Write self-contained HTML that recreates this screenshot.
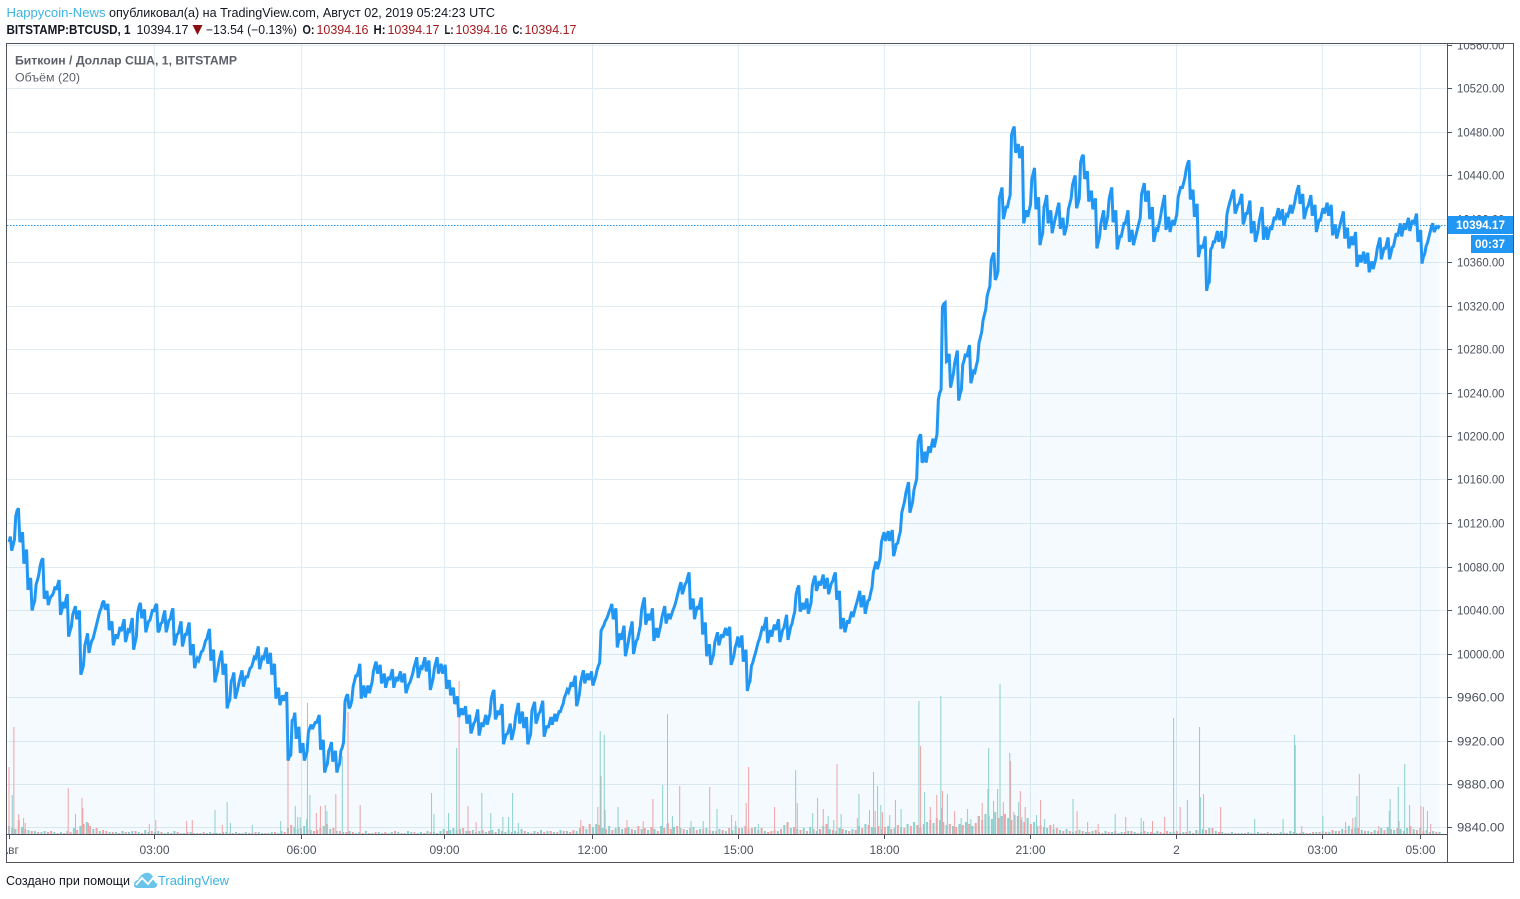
<!DOCTYPE html>
<html lang="ru">
<head>
<meta charset="utf-8">
<title>BTCUSD chart</title>
<style>
html,body{margin:0;padding:0;background:#fff;width:1520px;height:899px;overflow:hidden}
svg{display:block;font-family:"Liberation Sans","Noto Sans CJK SC",sans-serif}
</style>
</head>
<body>
<svg id="root" xmlns="http://www.w3.org/2000/svg" width="1520" height="899" viewBox="0 0 1520 899">
  <defs>
    <clipPath id="plot-clip"><rect x="7" y="44" width="1440" height="790"/></clipPath>
    <clipPath id="frame-clip"><rect x="7" y="44" width="1506" height="818"/></clipPath>
  </defs>

  <g font-size="12.5">
    <text x="6.5" y="17" fill="#3bb3e4" textLength="99" lengthAdjust="spacingAndGlyphs">Happycoin-News</text>
    <text x="109" y="17" fill="#131722" textLength="386" lengthAdjust="spacingAndGlyphs">опубликовал(а) на TradingView.com, Август 02, 2019 05:24:23 UTC</text>
    <text x="6.5" y="34" fill="#131722" font-weight="bold" textLength="124" lengthAdjust="spacingAndGlyphs">BITSTAMP:BTCUSD, 1</text>
    <text x="136.5" y="34" fill="#131722" textLength="52" lengthAdjust="spacingAndGlyphs">10394.17</text>
    <polygon points="192.6,25 202.5,25 197.5,35" fill="#8b0f10"/>
    <text x="206" y="34" fill="#131722" textLength="91" lengthAdjust="spacingAndGlyphs">−13.54 (−0.13%)</text>
    <text x="302.5" y="34" fill="#131722" font-weight="bold" textLength="12" lengthAdjust="spacingAndGlyphs">O:</text>
    <text x="316.5" y="34" fill="#a8181c" textLength="52" lengthAdjust="spacingAndGlyphs">10394.16</text>
    <text x="373.5" y="34" fill="#131722" font-weight="bold" textLength="12" lengthAdjust="spacingAndGlyphs">H:</text>
    <text x="387.5" y="34" fill="#a8181c" textLength="52" lengthAdjust="spacingAndGlyphs">10394.17</text>
    <text x="444.5" y="34" fill="#131722" font-weight="bold" textLength="9" lengthAdjust="spacingAndGlyphs">L:</text>
    <text x="455.5" y="34" fill="#a8181c" textLength="52" lengthAdjust="spacingAndGlyphs">10394.16</text>
    <text x="512.5" y="34" fill="#131722" font-weight="bold" textLength="10" lengthAdjust="spacingAndGlyphs">C:</text>
    <text x="524.5" y="34" fill="#a8181c" textLength="52" lengthAdjust="spacingAndGlyphs">10394.17</text>
  </g>

  <g id="grid"></g>
  <g id="area" clip-path="url(#plot-clip)"></g>
  <g id="volume" clip-path="url(#plot-clip)"></g>
  <g id="line" clip-path="url(#plot-clip)"></g>

  <g>
    <text x="15" y="64.5" font-size="12" font-weight="bold" fill="#5d606b" textLength="222" lengthAdjust="spacingAndGlyphs">Биткоин / Доллар США, 1, BITSTAMP</text>
    <text x="15" y="81.5" font-size="12" fill="#5d606b" textLength="65" lengthAdjust="spacingAndGlyphs">Объём (20)</text>
  </g>

  <g id="yaxis" clip-path="url(#frame-clip)"></g>
  <g id="xaxis" clip-path="url(#frame-clip)"></g>

  <g id="tags"></g>

  <rect x="6.5" y="43.5" width="1507" height="819" fill="none" stroke="#50535e" stroke-width="1"/>
  <line x1="1447.5" y1="43.5" x2="1447.5" y2="862.5" stroke="#50535e" stroke-width="1"/>
  <line x1="6.5" y1="834.5" x2="1447.5" y2="834.5" stroke="#50535e" stroke-width="1"/>

  <g>
    <text x="6" y="885" font-size="12.5" fill="#131722" textLength="124" lengthAdjust="spacingAndGlyphs">Создано при помощи</text>
    <g>
      <path d="M134 885 C134 881 137 880 138 880 C140 875 145 872 149 873 C152 874 153 877 154 879 C157 880 158 883 157 885 C157 887 155 888 153 888 L138 888 C135 888 134 887 134 885 Z" fill="#6cc4ea"/>
      <path d="M136 885 L142 878 L148 884 L153 878 L157 883" fill="none" stroke="#fff" stroke-width="1.8"/>
      <text x="158" y="885" font-size="12.5" fill="#3bb3e4" textLength="71" lengthAdjust="spacingAndGlyphs">TradingView</text>
    </g>
  </g>
</svg>

<script>
/* Closing prices (USD), one reading every ~5 minutes across the session */
const closePrices = [
10103,10100,10132,10105,10090,10065,10045,10068,10086,10053,
10050,10057,10064,10040,10050,10021,10040,10036,9985,10013,
10007,10019,10034,10047,10043,10025,10013,10019,10027,10016,
10027,10010,10044,10036,10025,10036,10044,10022,10035,10025,
10038,10012,10025,10012,10024,10004,9992,9998,10007,10019,
9998,9980,9998,9986,9955,9978,9964,9980,9975,9983,
9992,10001,9992,10001,9996,9986,9964,9958,9961,9906,
9940,9928,9914,9906,9932,9934,9940,9916,9896,9914,
9906,9896,9914,9961,9952,9975,9985,9965,9966,9969,
9989,9986,9977,9974,9981,9974,9980,9978,9968,9978,
9992,9983,9992,9989,9972,9992,9987,9986,9972,9966,
9957,9946,9948,9940,9931,9943,9931,9939,9940,9964,
9943,9949,9922,9931,9926,9949,9942,9937,9922,9952,
9940,9952,9929,9937,9940,9943,9951,9963,9969,9975,
9957,9980,9978,9980,9975,9989,10024,10032,10042,10036,
10012,10020,10004,10024,10006,10020,10047,10032,10036,10018,
10021,10039,10033,10036,10047,10062,10059,10071,10045,10038,
10047,10023,10004,9995,10015,10013,10020,10021,9994,10010,
10012,9998,9972,9992,10006,10019,10028,10016,10022,10027,
10016,10030,10019,10034,10060,10042,10046,10042,10068,10062,
10068,10065,10060,10072,10053,10028,10025,10034,10039,10053,
10048,10043,10056,10080,10083,10108,10108,10109,10095,10108,
10135,10153,10135,10156,10200,10178,10184,10192,10196,10240,
10322,10270,10251,10273,10239,10270,10279,10254,10265,10291,
10312,10334,10366,10347,10424,10405,10417,10482,10464,10461,
10402,10408,10442,10414,10382,10416,10402,10393,10410,10396,
10390,10414,10436,10414,10457,10439,10421,10414,10378,10402,
10396,10424,10402,10378,10390,10402,10385,10381,10396,10428,
10421,10405,10385,10396,10416,10396,10394,10399,10425,10433,
10451,10421,10408,10371,10378,10340,10374,10384,10384,10378,
10410,10424,10408,10419,10399,10411,10393,10384,10405,10387,
10387,10396,10405,10404,10399,10408,10410,10427,10418,10405,
10417,10408,10393,10405,10410,10408,10390,10387,10402,10387,
10378,10382,10362,10365,10364,10356,10359,10378,10368,10378,
10368,10381,10390,10390,10396,10394,10400,10384,10365,10378,
10393,10391,10394.17
];
/* Half-width (USD) of the minute-to-minute swing seen inside each reading */
const priceSwings = [
5,5,2,7,6,5,4,5,2,5,
3,5,4,8,5,4,4,4,5,6,
5,5,5,2,3,5,5,6,5,6,
6,6,3,5,5,5,2,6,5,6,
4,6,5,6,5,5,4,4,5,4,
6,5,5,5,3,5,5,5,5,4,
5,6,5,5,5,5,5,4,4,1,
6,5,4,4,3,3,4,5,3,5,
5,3,5,2,5,5,6,6,5,5,
4,4,5,5,5,5,4,4,4,4,
5,5,5,5,5,5,4,4,4,3,
4,4,4,4,5,6,6,5,5,3,
5,5,4,5,6,6,5,5,4,4,
5,5,5,5,5,4,3,4,5,5,
6,5,4,4,4,3,2,3,4,6,
7,6,6,6,6,6,5,5,6,6,
5,5,4,4,5,4,5,4,6,6,
5,6,5,4,5,5,4,4,4,6,
5,6,3,5,5,5,6,6,5,5,
6,6,6,5,3,5,5,5,4,5,
5,5,5,3,5,5,6,5,5,5,
6,6,5,5,5,4,5,5,6,5,
5,5,5,5,2,8,7,6,6,3,
1,6,6,6,4,6,5,6,5,5,
5,4,3,5,5,6,5,3,5,6,
6,5,5,6,5,6,6,6,5,5,
5,5,4,5,2,5,5,5,6,6,
6,5,6,6,6,6,5,5,5,5,
5,6,6,6,6,6,5,5,5,5,
3,6,6,5,6,2,5,5,5,6,
5,3,5,4,6,6,5,6,6,6,
6,6,5,5,5,5,5,4,5,5,
5,5,6,5,5,5,5,5,5,5,
6,6,5,5,5,5,5,5,5,5,
6,6,6,6,5,5,5,6,3,5,
3,2,0
];
const sessionMinutes = 1764;
const lastPrice = 10394.17;

/* Background volume, one reading every 4 minutes; sign = candle direction */
const baseVolume = [
8,-6,5,-14,7,-5,4,-3,3,-2,2,3,-2,-3,2,-1,
2,-1,3,-2,6,-4,8,-10,12,-8,5,-6,3,-4,-3,2,
-2,2,-1,3,-2,2,3,-3,2,-1,4,2,-3,2,3,-2,1,2,-1,3,-2,1,1,-2,2,1,-1,1,-2,
1,2,-1,1,1,-2,2,1,-1,2,-1,1,2,-1,1,-2,2,1,-1,1,2,-2,1,3,-2,
6,-9,7,5,-6,8,-5,4,-3,-4,-6,8,-10,5,-6,3,-3,2,-2,3,
-2,1,2,-1,3,-1,1,-2,2,1,-2,1,2,-3,2,-1,1,3,2,-2,1,2,-1,3,-2,2,-1,3,5,-3,
4,6,-4,5,-6,3,-3,4,-2,3,-4,2,-3,4,-2,
5,-3,2,4,-2,3,-2,5,-3,2,-1,3,-2,4,-2,3,-3,2,-2,4,-3,3,-2,-4,3,
6,-8,5,-10,7,10,-9,6,-5,8,-4,6,-7,5,-6,7,-5,4,-8,5,-6,4,-7,5,-3,
8,-6,10,-5,7,-8,6,-5,4,-6,7,-4,5,-5,6,-4,3,-3,5,-4,3,-6,4,8,-6,
6,-8,5,-6,7,-4,-6,3,-2,-3,4,3,-5,9,-12,6,-7,5,-4,6,-3,7,-5,3,-5,8,-10,5,-4,3,
6,-5,4,-3,5,-4,8,-6,10,-9,7,6,-8,5,-7,8,-5,6,-9,7,-6,10,-8,12,-9,6,-10,12,-14,11,
-16,14,-12,9,-10,8,-7,10,-9,12,-10,8,-11,18,-14,20,-18,15,22,-16,18,-20,16,-14,19,
-18,14,-12,16,-10,12,-8,9,-7,6,-9,5,-6,4,-3,5,-3,2,-3,4,
-3,2,-2,3,-4,2,-1,3,-2,2,-3,1,2,-2,3,-3,2,-1,2,-3,2,-2,1,3,-2,1,-3,2,2,-3,1,2,-2,3,-1,4,-3,5,-4,6,
-6,3,-2,2,-1,1,2,-1,1,1,-1,2,-1,1,2,-1,1,-2,1,1,-1,2,-1,1,3,-2,1,-1,2,-1,1,-2,
2,-2,3,-2,2,-4,3,-3,5,-4,8,-5,6,-6,4,-3,3,-2,4,-3,6,-4,7,-5,4,-6,5,-3,6,-8,5,-4,6,-3,4,-2,3,-2,2
];
const baseVolumeStepMinutes = 4;

/* Volume spikes on falling candles */
const downSpikeMinutes = [0,6,12,18,20,73,90,91,98,173,181,219,226,263,344,379,384,390,403,418,433,555,566,576,705,726,730,735,762,782,794,813,827,864,891,909,912,944,960,972,997,1004,1021,1046,1068,1077,1093,1124,1136,1144,1151,1166,1195,1200,1214,1226,1235,1239,1247,1253,1256,1272,1288,1317,1330,1343,1377,1399,1410,1425,1444,1468,1473,1494,1594,1648,1657,1665,1689,1714,1741,1744,1753];
const downSpikeVolumes = [67,107,20,16,11,46,36,26,11,10,14,13,14,9,74,21,28,29,40,122,29,153,28,12,14,27,58,24,14,13,35,11,48,47,19,31,67,27,11,31,36,25,70,16,23,22,34,88,27,39,43,23,18,31,33,32,73,22,43,27,16,34,10,23,12,10,17,13,13,17,27,107,40,27,8,12,16,60,8,13,28,27,10];

/* Volume spikes on rising candles */
const upSpikeMinutes = [4,82,254,269,273,300,335,353,356,359,367,368,371,392,411,521,524,542,552,583,594,609,616,621,628,729,734,751,806,812,818,841,856,873,896,924,970,991,1010,1017,1026,1048,1061,1066,1071,1075,1086,1100,1122,1129,1149,1150,1157,1174,1182,1186,1207,1208,1219,1222,1234,1245,1249,1267,1277,1312,1364,1396,1436,1453,1469,1536,1571,1585,1586,1620,1660,1662,1702,1703,1713,1721,1727,1749];
const upSpikeVolumes = [39,20,24,32,11,9,13,28,17,17,15,131,39,23,78,41,20,21,86,41,21,17,17,41,11,103,99,27,49,120,18,13,13,25,13,10,64,21,18,14,20,40,24,62,48,29,19,25,133,42,138,26,40,16,25,15,45,86,45,150,81,32,17,19,15,35,20,16,116,34,37,15,15,99,89,18,17,38,23,35,47,70,29,23];

/* Axis labels */
const priceTicks = [10560,10520,10480,10440,10400,10360,10320,10280,10240,10200,10160,10120,10080,10040,10000,9960,9920,9880,9840];
const timeTickMinutes = [0,180,361,537,719,900,1080,1260,1440,1620,1740];
const timeTickLabels = ['Авг','03:00','06:00','09:00','12:00','15:00','18:00','21:00','2','03:00','05:00'];
const countdownLabel = '00:37';

/* Axis functions */
const SVGNS = 'http://www.w3.org/2000/svg';
function xOf(minute){ return 9 + 0.811 * minute; }
function yOf(price){ return 88.5 + (10520 - price) * 1.0875; }
function volY(volume){ return 834 - volume; }
function make(parent, tag, attrs){
  const el = document.createElementNS(SVGNS, tag);
  for (const k in attrs) el.setAttribute(k, attrs[k]);
  parent.appendChild(el);
  return el;
}

const gridG = document.getElementById('grid');
const yAxisG = document.getElementById('yaxis');
const xAxisG = document.getElementById('xaxis');
const areaG = document.getElementById('area');
const volG = document.getElementById('volume');
const lineG = document.getElementById('line');
const tagsG = document.getElementById('tags');

/* Horizontal grid + price ticks */
priceTicks.forEach(function(p){
  const y = Math.round(yOf(p) - 0.5) + 0.5;
  const g = make(gridG, 'line', {x1:7, x2:1447, y1:y, y2:y, stroke:'#e1ecf2', 'stroke-width':1});
  
  
  const t = make(yAxisG, 'line', {x1:1447, x2:1452, y1:y, y2:y, stroke:'#50535e', 'stroke-width':1});
  
  
  const l = make(yAxisG, 'text', {x:1457, y:y + 4, 'font-size':12, fill:'#4c525e', textLength:47.5, lengthAdjust:'spacingAndGlyphs'});
  
  
  l.textContent = p.toFixed(2);
});

/* Vertical grid + time ticks */
timeTickMinutes.forEach(function(m, i){
  const x = Math.round(xOf(m) - 0.5) + 0.5;
  if (i > 0) {
    const g = make(gridG, 'line', {x1:x, x2:x, y1:44, y2:834, stroke:'#e1ecf2', 'stroke-width':1});
    
    
  }
  const t = make(xAxisG, 'line', {x1:x, x2:x, y1:834, y2:839, stroke:'#50535e', 'stroke-width':1});
  
  
  const l = make(xAxisG, 'text', {x:x, y:854, 'font-size':12, fill:'#4c525e', 'text-anchor':'middle'});
  
  
  l.textContent = timeTickLabels[i];
});

/* Price path: each reading plus the swing inside its interval */
const stepMinutes = sessionMinutes / (closePrices.length - 1);
let linePath = '';
closePrices.forEach(function(p, i){
  linePath += (i ? 'L' : 'M') + xOf(i * stepMinutes).toFixed(2) + ' ' + yOf(p).toFixed(2);
  if (i < closePrices.length - 1) {
    const s = priceSwings[i];
    const next = closePrices[i + 1];
    linePath += 'L' + xOf((i + 1 / 3) * stepMinutes).toFixed(2) + ' ' + yOf(p + s).toFixed(2);
    linePath += 'L' + xOf((i + 2 / 3) * stepMinutes).toFixed(2) + ' ' + yOf(next - s).toFixed(2);
  }
});
const areaPath = linePath + 'L' + xOf(sessionMinutes).toFixed(2) + ' 834L' + xOf(0).toFixed(2) + ' 834Z';
const areaEl = make(areaG, 'path', {d:areaPath, fill:'#2196f3', 'fill-opacity':0.05});



/* Volume */
function drawVolumeBar(minute, signedVolume, width){
  if (minute > sessionMinutes) return;
  const v = Math.abs(signedVolume);
  const r = make(volG, 'rect', {
    x:(xOf(minute) - width / 2).toFixed(2), y:volY(v), width:width, height:v,
    fill: signedVolume >= 0 ? '#8bd0cc' : '#efa3a6'
  });
  
  
}
baseVolume.forEach(function(v, i){ drawVolumeBar(i * baseVolumeStepMinutes, v, 2); });
downSpikeMinutes.forEach(function(m, i){ drawVolumeBar(m, -downSpikeVolumes[i], 1); });
upSpikeMinutes.forEach(function(m, i){ drawVolumeBar(m, upSpikeVolumes[i], 1); });

/* Line on top */
const lineEl = make(lineG, 'path', {d:linePath, fill:'none', stroke:'#2196f3', 'stroke-width':3, 'stroke-linejoin':'miter', 'stroke-miterlimit':2.5});


const lastY = Math.round(yOf(lastPrice) - 0.5) + 0.5;
const dotted = make(lineG, 'line', {x1:7, x2:1447, y1:lastY, y2:lastY, stroke:'#2196f3', 'stroke-width':1, 'stroke-dasharray':'1.5 1.5'});



/* Tags on price axis */
const tagTop = Math.round(yOf(lastPrice)) - 9;
const tag = make(tagsG, 'rect', {x:1447, y:tagTop, width:66, height:18, fill:'#2196f3'});


const tagText = make(tagsG, 'text', {x:1456, y:tagTop + 13, 'font-size':12, 'font-weight':'bold', fill:'#fff', textLength:49, lengthAdjust:'spacingAndGlyphs'});


tagText.textContent = lastPrice.toFixed(2);
const cd = make(tagsG, 'rect', {x:1471, y:tagTop + 19, width:42, height:18, fill:'#2196f3'});


const cdText = make(tagsG, 'text', {x:1475, y:tagTop + 32, 'font-size':12, 'font-weight':'bold', fill:'#fff', textLength:30, lengthAdjust:'spacingAndGlyphs'});


cdText.textContent = countdownLabel;
</script>
</body>
</html>
